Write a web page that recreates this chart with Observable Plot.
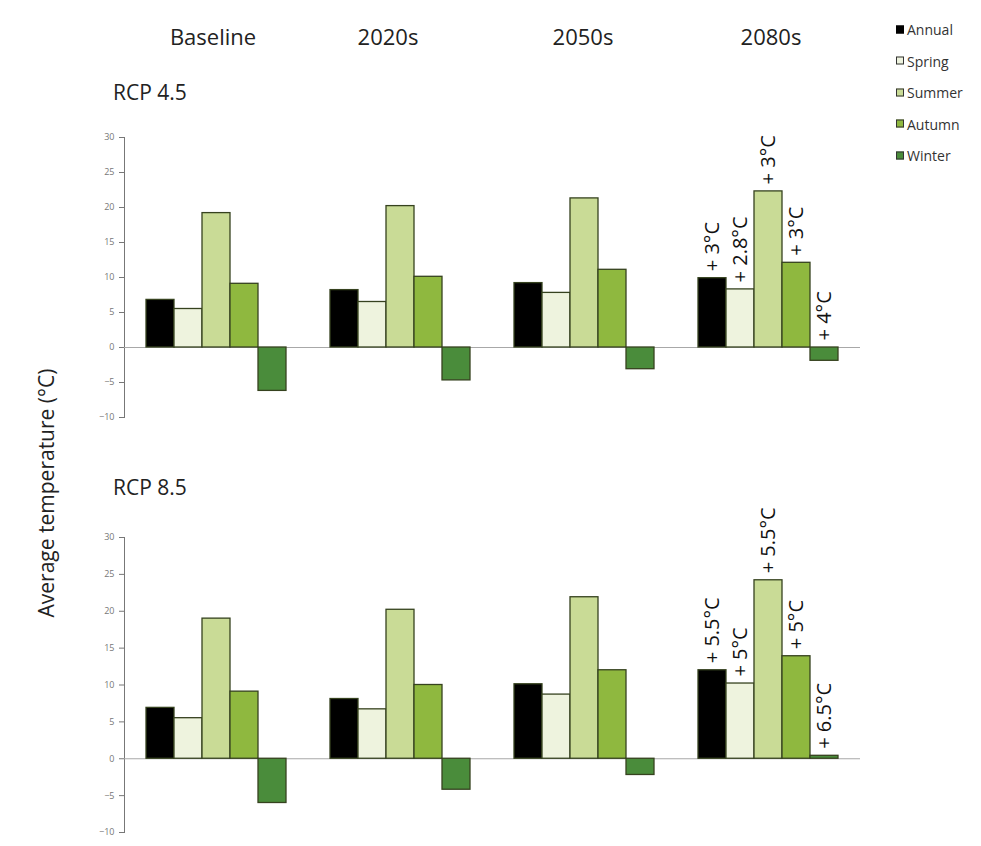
<!DOCTYPE html>
<html>
<head>
<meta charset="utf-8">
<script src="https://cdn.jsdelivr.net/npm/d3@7"></script>
<script src="https://cdn.jsdelivr.net/npm/@observablehq/plot@0.6"></script>
<style>
  html, body { margin: 0; padding: 0; background: #fff; }
  #wrap { position: relative; width: 981px; height: 846px; overflow: hidden; font-family: "Open Sans", sans-serif; color: #222; }
  .abs { position: absolute; white-space: nowrap; }
  .hdr { font-size: 22px; transform: translate(-50%, -50%); }
  .rcp { font-size: 21px; transform: translateY(-50%); }
  .ylab { font-size: 21px; transform: translate(-50%, -50%) rotate(-90deg); }
  .leg { font-size: 14px; color: #333; display: flex; align-items: center; transform: translateY(-50%); }
  .sw { width: 8px; height: 8px; border: 1px solid #333; margin-right: 3px; box-sizing: border-box; }
  svg { overflow: visible; }
</style>
</head>
<body>
<div id="wrap"></div>
<script>
// ---- data ----
const periods = ["Baseline", "2020s", "2050s", "2080s"];
const seasons = ["Annual", "Spring", "Summer", "Autumn", "Winter"];
const seasonColors = ["#000000", "#eef3de", "#c9db96", "#8fb83f", "#4a8c3b"];
const yTicks = [-10, -5, 0, 5, 10, 15, 20, 25, 30];

// RCP 4.5 (values per period, in season order)
const rcp45Baseline = [6.8, 5.5, 19.2, 9.1, -6.2];
const rcp45_2020s   = [8.2, 6.5, 20.2, 10.1, -4.7];
const rcp45_2050s   = [9.2, 7.8, 21.3, 11.1, -3.1];
const rcp45_2080s   = [9.9, 8.3, 22.3, 12.1, -1.9];
const rcp45Labels   = ["+ 3°C", "+ 2.8°C", "+ 3°C", "+ 3°C", "+ 4°C"];

// RCP 8.5
const rcp85Baseline = [6.9, 5.5, 19.0, 9.1, -6.0];
const rcp85_2020s   = [8.1, 6.7, 20.2, 10.0, -4.2];
const rcp85_2050s   = [10.1, 8.7, 21.9, 12.0, -2.2];
const rcp85_2080s   = [12.0, 10.2, 24.2, 13.9, 0.4];
const rcp85Labels   = ["+ 5.5°C", "+ 5°C", "+ 5.5°C", "+ 5°C", "+ 6.5°C"];

const scenarioNames = ["RCP 4.5", "RCP 8.5"];
const yTitle = "Average temperature (°C)";

// ---- chart ----
const wrap = document.getElementById("wrap");

function panel(series, labels, height) {
  const data = periods.flatMap((p, i) => seasons.map((s, j) => ({period: p, season: s, value: series[i][j]})));
  const last = periods.length - 1;
  const ann = seasons.map((s, j) => ({period: periods[last], season: s, value: series[last][j], label: labels[j]}));
  return Plot.plot({
    width: 981,
    height,
    marginLeft: 123,
    marginRight: 120,
    marginTop: 10,
    marginBottom: 10,
    style: {fontFamily: "'Open Sans', sans-serif", fontSize: "9px", color: "#777", background: "transparent", overflow: "visible"},
    fx: {domain: periods, padding: 0, axis: null},
    x: {domain: seasons, paddingInner: 0, paddingOuter: 0.77, axis: null},
    y: {domain: [-10, 30], ticks: yTicks, tickSize: 5, tickPadding: 5, line: true, label: null},
    color: {domain: seasons, range: seasonColors},
    marks: [
      Plot.ruleY([0], {stroke: "#a8a8a8", strokeWidth: 1.2}),
      Plot.barY(data, {fx: "period", x: "season", y: "value", fill: "season", stroke: "#36421f", strokeWidth: 1.3}),
      Plot.text(ann, {
        fx: "period", x: "season", y: d => Math.max(d.value, 0), text: "label",
        rotate: -90, textAnchor: "start", dy: -7, fontSize: 20, fill: "#111",
        fontFamily: "'Open Sans', sans-serif"
      })
    ]
  });
}

function place(el, left, top) {
  el.style.position = "absolute";
  el.style.left = left + "px";
  el.style.top = top + "px";
  wrap.appendChild(el);
}

const top1 = panel([rcp45Baseline, rcp45_2020s, rcp45_2050s, rcp45_2080s], rcp45Labels, 300);
place(top1, 0, 127);
const top2 = panel([rcp85Baseline, rcp85_2020s, rcp85_2050s, rcp85_2080s], rcp85Labels, 315);
place(top2, 0, 527);

// column headers
const headerX = [213, 388, 583, 771];
periods.forEach((p, i) => {
  const d = document.createElement("div");
  d.className = "abs hdr";
  d.textContent = p;
  d.style.left = headerX[i] + "px";
  d.style.top = "36px";
  wrap.appendChild(d);
});

// scenario titles
[[92], [487]].forEach(([y], i) => {
  const d = document.createElement("div");
  d.className = "abs rcp";
  d.textContent = scenarioNames[i];
  d.style.left = "113px";
  d.style.top = y + "px";
  wrap.appendChild(d);
});

// y title
const yl = document.createElement("div");
yl.className = "abs ylab";
yl.textContent = yTitle;
yl.style.left = "46px";
yl.style.top = "493px";
wrap.appendChild(yl);

// legend
seasons.forEach((s, i) => {
  const row = document.createElement("div");
  row.className = "abs leg";
  row.style.left = "896px";
  row.style.top = (29 + i * 31.5) + "px";
  const sw = document.createElement("span");
  sw.className = "sw";
  sw.style.background = seasonColors[i];
  if (i === 0) sw.style.borderColor = "#000";
  const t = document.createElement("span");
  t.textContent = s;
  row.appendChild(sw);
  row.appendChild(t);
  wrap.appendChild(row);
});
</script>
</body>
</html>
